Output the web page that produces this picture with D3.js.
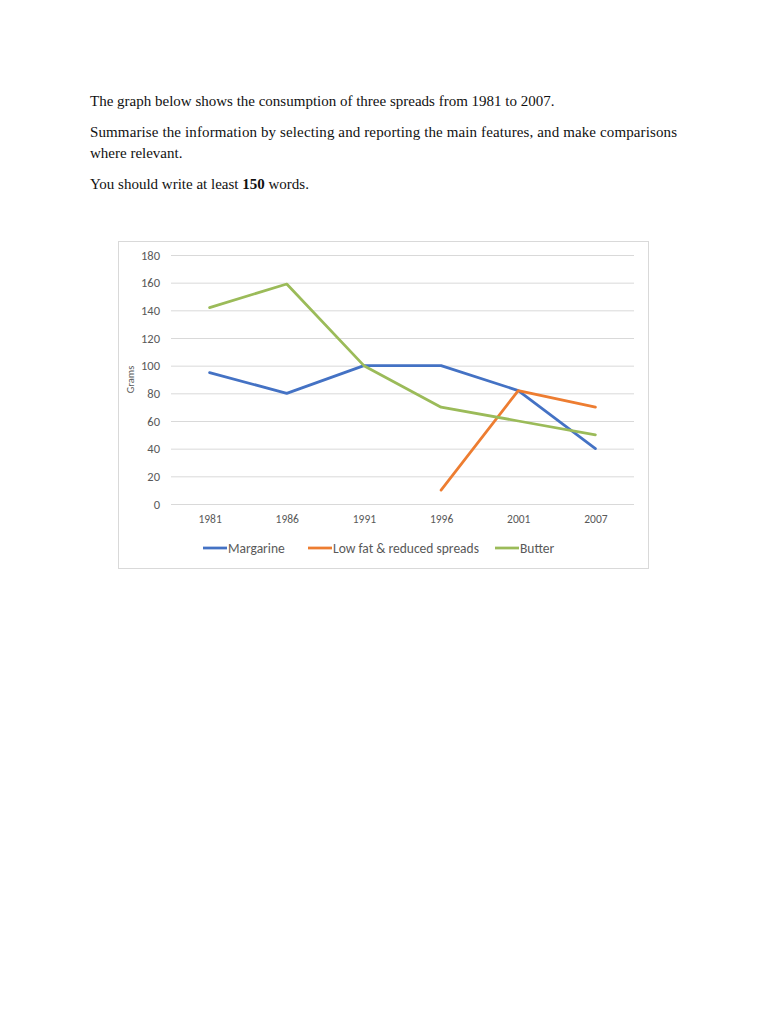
<!DOCTYPE html>
<html>
<head>
<meta charset="utf-8">
<script src="https://cdn.jsdelivr.net/npm/d3@7"></script>
<style>
  body { margin: 0; background: #fff; }
</style>
</head>
<body>
<svg id="page"></svg>
<script>
// chart data
const years = ["1981", "1986", "1991", "1996", "2001", "2007"]
const margarine = [95, 80, 100, 100, 82, 40]
const lowFat = [null, null, null, 10, 82, 70]
const butter = [142, 159, 100, 70, 60, 50]
const yTicks = [0, 20, 40, 60, 80, 100, 120, 140, 160, 180]

const series = [
  {name: "Margarine", values: margarine, color: "#4472c4"},
  {name: "Low fat & reduced spreads", values: lowFat, color: "#ed7d31"},
  {name: "Butter", values: butter, color: "#9bbb59"}
]

const width = 768, height = 1024

const svg = d3.select("#page")
              .attr("width", width)
              .attr("height", height)

// task text above the chart
const serif = "'Liberation Serif', 'Times New Roman', serif"
const lines = [
  {y: 106, parts: [{t: "The graph below shows the consumption of three spreads from 1981 to 2007."}]},
  {y: 137, len: 587, parts: [{t: "Summarise the information by selecting and reporting the main features, and make comparisons"}]},
  {y: 158, parts: [{t: "where relevant."}]},
  {y: 189, parts: [{t: "You should write at least "}, {t: "150", b: true}, {t: " words."}]}
]
lines.forEach(l => {
  const txt = svg.append("text")
                 .attr("x", 90)
                 .attr("y", l.y)
                 .attr("font-family", serif)
                 .attr("font-size", 15)
                 .attr("fill", "#111")
  if (l.len) txt.attr("textLength", l.len).attr("lengthAdjust", "spacing")
  l.parts.forEach(p => {
    txt.append("tspan")
       .attr("font-weight", p.b ? "bold" : "normal")
       .text(p.t)
  })
})

// chart frame
svg.append("rect")
   .attr("x", 118.5)
   .attr("y", 241.5)
   .attr("width", 530)
   .attr("height", 327)
   .attr("fill", "#fff")
   .attr("stroke", "#d9d9d9")

const plot = {left: 171, right: 634, top: 255, bottom: 504}
const sans = "Carlito, 'Open Sans', 'DejaVu Sans', sans-serif"

const x = d3.scalePoint()
            .domain(years)
            .range([plot.left, plot.right])
            .padding(0.5)
const y = d3.scaleLinear()
            .domain([0, 180])
            .range([plot.bottom, plot.top])

// gridlines + y labels
const yAxis = svg.append("g")
                 .attr("transform", `translate(${plot.left},0)`)
                 .call(d3.axisLeft(y).tickValues(yTicks)
                         .tickSize(-(plot.right - plot.left))
                         .tickPadding(11))
yAxis.select(".domain").remove()
yAxis.selectAll(".tick line").attr("stroke", "#d9d9d9")
yAxis.selectAll(".tick text")
     .attr("font-family", sans)
     .attr("font-size", 12.5)
     .attr("fill", "#595959")

// x labels
const xAxis = svg.append("g")
                 .attr("transform", `translate(0,${plot.bottom})`)
                 .call(d3.axisBottom(x).tickSize(0).tickPadding(11))
xAxis.select(".domain").remove()
xAxis.selectAll(".tick text")
     .attr("font-family", sans)
     .attr("font-size", 11.5)
     .attr("fill", "#595959")

svg.append("text")
   .attr("transform", `translate(134,${(plot.top + plot.bottom) / 2}) rotate(-90)`)
   .attr("text-anchor", "middle")
   .attr("font-family", sans)
   .attr("font-size", 10.5)
   .attr("fill", "#595959")
   .text("Grams")

// lines
const line = d3.line()
               .defined(d => d.v != null)
               .x(d => x(d.year))
               .y(d => y(d.v))

series.forEach(s => {
  svg.append("path")
     .datum(years.map((yr, i) => ({year: yr, v: s.values[i]})))
     .attr("d", line)
     .attr("fill", "none")
     .attr("stroke", s.color)
     .attr("stroke-width", 2.75)
     .attr("stroke-linejoin", "round")
     .attr("stroke-linecap", "round")
})

// legend
const legendX = [203, 308, 495]
series.forEach((s, i) => {
  const g = svg.append("g").attr("transform", `translate(${legendX[i]},548)`)
  g.append("line")
   .attr("x1", 0).attr("x2", 24)
   .attr("stroke", s.color)
   .attr("stroke-width", 2.75)
  g.append("text")
   .attr("x", 25)
   .attr("y", 4.5)
   .attr("font-family", sans)
   .attr("font-size", 13.5)
   .attr("fill", "#595959")
   .text(s.name)
})
</script>
</body>
</html>
